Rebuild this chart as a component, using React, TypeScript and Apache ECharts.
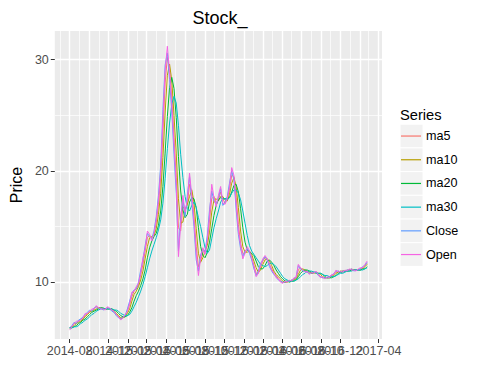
import React, { useEffect, useRef } from "react";
import * as echarts from "echarts";

const dates = [
  "2014-08-01","2014-08-08","2014-08-15","2014-08-22","2014-08-29","2014-09-05","2014-09-12","2014-09-19","2014-09-26","2014-10-03",
  "2014-10-10","2014-10-17","2014-10-24","2014-10-31","2014-11-07","2014-11-14","2014-11-21","2014-11-28","2014-12-05","2014-12-12",
  "2014-12-19","2014-12-26","2015-01-02","2015-01-09","2015-01-16","2015-01-23","2015-01-30","2015-02-06","2015-02-13","2015-02-20",
  "2015-02-27","2015-03-06","2015-03-13","2015-03-20","2015-03-27","2015-04-03","2015-04-10","2015-04-17","2015-04-24","2015-05-01",
  "2015-05-08","2015-05-15","2015-05-22","2015-05-29","2015-06-05","2015-06-12","2015-06-19","2015-06-26","2015-07-03","2015-07-10",
  "2015-07-17","2015-07-24","2015-07-31","2015-08-07","2015-08-14","2015-08-21","2015-08-28","2015-09-04","2015-09-11","2015-09-18",
  "2015-09-25","2015-10-02","2015-10-09","2015-10-16","2015-10-23","2015-10-30","2015-11-06","2015-11-13","2015-11-20","2015-11-27",
  "2015-12-04","2015-12-11","2015-12-18","2015-12-25","2016-01-01","2016-01-08","2016-01-15","2016-01-22","2016-01-29","2016-02-05",
  "2016-02-12","2016-02-19","2016-02-26","2016-03-04","2016-03-11","2016-03-18","2016-03-25","2016-04-01","2016-04-08","2016-04-15",
  "2016-04-22","2016-04-29","2016-05-06","2016-05-13","2016-05-20","2016-05-27","2016-06-03","2016-06-10","2016-06-17","2016-06-24",
  "2016-07-01","2016-07-08","2016-07-15","2016-07-22","2016-07-29","2016-08-05","2016-08-12","2016-08-19","2016-08-26","2016-09-02",
  "2016-09-09","2016-09-16","2016-09-23","2016-09-30","2016-10-07","2016-10-14","2016-10-21","2016-10-28","2016-11-04","2016-11-11",
  "2016-11-18","2016-11-25","2016-12-02","2016-12-09","2016-12-16","2016-12-23","2016-12-30","2017-01-06","2017-01-13","2017-01-20",
  "2017-01-27","2017-02-03","2017-02-10","2017-02-17","2017-02-24"
];

const closeV = [
  5.9,6.1,6.4,6.3,6.6,6.7,6.9,7.1,7.3,7.5,
  7.4,7.7,7.8,7.6,7.7,7.5,7.6,7.7,7.6,7.4,
  7.3,7.0,6.8,6.7,6.9,7.0,7.6,8.3,9.0,9.3,
  9.4,10.0,11.1,12.0,13.3,14.4,14.1,13.9,14.6,15.9,
  17.8,20.5,25.5,29.5,30.6,28.2,25.3,21.5,18.0,12.8,
  15.8,17.5,15.9,17.8,19.5,17.2,15.0,12.0,11.0,12.5,
  12.9,12.8,14.2,16.5,18.2,17.3,17.0,17.6,18.4,16.9,
  17.2,17.7,18.9,20.0,19.2,16.5,14.3,13.0,12.3,12.8,
  13.0,12.6,12.0,11.2,10.6,11.0,11.7,12.0,12.3,12.0,
  11.4,11.0,10.7,10.5,10.2,10.1,10.0,10.0,10.1,10.1,
  10.2,10.3,10.5,11.5,11.2,11.0,11.0,10.9,10.8,10.8,
  10.9,10.9,10.6,10.5,10.4,10.4,10.4,10.5,10.6,10.8,
  11.0,11.0,10.9,11.0,11.0,11.1,11.1,11.2,11.0,11.1,
  11.1,11.2,11.4,11.5,11.8
];

const openV = [
  5.7,6.0,6.3,6.5,6.5,6.6,6.8,7.2,7.2,7.4,
  7.6,7.6,7.9,7.7,7.6,7.6,7.5,7.8,7.7,7.5,
  7.4,7.1,6.9,6.6,6.8,7.1,7.4,8.1,9.1,9.2,
  9.6,9.9,10.8,12.2,13.0,14.6,14.3,13.7,14.4,15.6,
  17.4,20.0,24.6,29.0,31.2,28.9,26.0,22.4,18.8,12.3,
  15.2,17.8,16.3,17.4,19.8,17.8,15.5,12.6,10.6,12.2,
  13.1,12.5,13.8,16.0,18.8,17.6,16.8,17.8,18.6,17.1,
  17.0,17.5,18.6,20.3,19.6,17.0,14.6,13.3,12.1,12.6,
  13.2,12.8,12.2,11.4,10.5,10.8,11.5,12.1,12.4,12.1,
  11.6,11.1,10.8,10.4,10.3,10.0,9.9,10.1,10.0,10.2,
  10.1,10.4,10.4,11.6,11.3,11.1,10.9,11.0,10.7,10.9,
  10.8,11.0,10.7,10.4,10.5,10.3,10.5,10.4,10.7,10.7,
  11.1,10.9,11.0,10.9,11.1,11.0,11.2,11.1,11.1,11.0,
  11.2,11.3,11.3,11.6,11.9
];

const ma5V = [
  5.9,6.0,6.3,6.3,6.5,6.7,6.8,7.0,7.2,7.4,
  7.4,7.6,7.8,7.7,7.7,7.6,7.6,7.7,7.6,7.5,
  7.3,7.1,6.9,6.7,6.8,7.0,7.4,8.0,8.7,9.2,
  9.4,9.8,10.7,11.6,12.8,14.0,14.2,14.0,14.3,15.4,
  17.0,19.4,23.5,27.9,30.2,29.2,26.5,23.0,19.4,14.9,
  14.6,16.8,16.5,17.0,18.8,18.1,15.9,13.2,11.4,11.9,
  12.7,12.8,13.6,15.6,17.5,17.7,17.1,17.4,18.1,17.5,
  17.1,17.5,18.4,19.6,19.5,17.6,15.2,13.5,12.6,12.6,
  12.9,12.8,12.2,11.5,10.8,10.8,11.4,11.9,12.2,12.1,
  11.6,11.2,10.8,10.6,10.3,10.1,10.0,10.0,10.1,10.1,
  10.2,10.3,10.4,11.1,11.3,11.1,11.0,10.9,10.8,10.8,
  10.9,10.9,10.7,10.5,10.4,10.4,10.4,10.5,10.6,10.7,
  10.9,11.0,10.9,11.0,11.0,11.1,11.1,11.2,11.1,11.1,
  11.1,11.2,11.3,11.5,11.7
];

const ma10V = [
  5.9,6.0,6.1,6.3,6.4,6.5,6.7,6.9,7.1,7.3,
  7.4,7.5,7.6,7.7,7.7,7.6,7.6,7.6,7.6,7.6,
  7.4,7.2,7.0,6.8,6.8,6.9,7.2,7.6,8.3,8.9,
  9.2,9.6,10.2,11.0,12.1,13.2,14.0,14.1,14.2,14.8,
  16.1,18.0,21.2,25.2,28.6,29.6,28.1,25.0,21.6,17.5,
  15.3,15.4,16.5,17.0,17.7,18.3,17.2,14.8,12.6,11.8,
  12.2,12.8,13.3,14.5,16.3,17.4,17.5,17.3,17.7,17.7,
  17.4,17.3,17.9,18.9,19.4,18.6,16.7,14.6,13.2,12.7,
  12.7,12.8,12.5,11.9,11.3,10.9,11.1,11.6,12.0,12.1,
  11.9,11.5,11.0,10.7,10.5,10.3,10.1,10.0,10.0,10.1,
  10.1,10.2,10.3,10.7,11.1,11.2,11.1,11.0,10.9,10.8,
  10.8,10.9,10.8,10.7,10.5,10.4,10.4,10.4,10.5,10.6,
  10.8,10.9,11.0,11.0,11.0,11.0,11.1,11.1,11.1,11.1,
  11.1,11.1,11.2,11.4,11.6
];

const ma20V = [
  5.9,5.9,6.0,6.1,6.3,6.4,6.6,6.7,6.9,7.1,
  7.3,7.4,7.5,7.6,7.7,7.7,7.6,7.6,7.6,7.6,
  7.5,7.4,7.2,7.0,6.9,6.9,7.0,7.3,7.7,8.3,
  8.8,9.2,9.7,10.3,11.1,12.2,13.1,13.7,14.1,14.4,
  15.1,16.4,18.6,21.6,24.9,27.5,28.4,27.4,24.8,21.3,
  18.2,16.5,15.8,16.1,17.2,17.6,17.5,16.7,14.9,13.2,
  12.4,12.2,12.7,13.6,14.8,16.0,16.9,17.4,17.6,17.5,
  17.5,17.5,17.6,18.1,18.7,18.8,18.1,16.6,14.9,13.6,
  12.9,12.7,12.6,12.4,11.9,11.4,11.2,11.2,11.5,11.9,
  12.0,11.8,11.5,11.1,10.8,10.5,10.3,10.1,10.1,10.0,
  10.1,10.1,10.2,10.5,10.8,11.0,11.1,11.1,11.0,10.9,
  10.9,10.8,10.8,10.8,10.7,10.5,10.4,10.4,10.4,10.5,
  10.6,10.8,10.9,10.9,11.0,11.0,11.0,11.1,11.1,11.1,
  11.1,11.1,11.2,11.2,11.4
];

const ma30V = [
  5.9,5.9,6.0,6.0,6.1,6.3,6.4,6.6,6.7,6.9,
  7.1,7.2,7.4,7.5,7.6,7.6,7.6,7.6,7.6,7.6,
  7.5,7.5,7.4,7.2,7.1,7.0,7.0,7.1,7.4,7.8,
  8.2,8.7,9.2,9.8,10.5,11.3,12.1,12.8,13.4,14.0,
  14.7,15.6,17.1,19.3,22.0,24.3,26.0,26.7,26.1,24.1,
  21.5,19.4,17.7,16.6,16.4,16.9,17.2,16.7,15.8,15.0,
  14.0,13.1,12.6,12.9,13.9,14.9,15.7,16.4,17.2,17.5,
  17.5,17.4,17.6,18.0,18.3,18.3,18.0,17.4,16.4,15.3,
  14.2,13.3,12.8,12.5,12.2,11.9,11.6,11.5,11.4,11.5,
  11.7,11.7,11.6,11.4,11.1,10.8,10.5,10.3,10.2,10.1,
  10.1,10.1,10.2,10.3,10.5,10.7,10.8,11.0,11.0,11.0,
  10.9,10.9,10.8,10.8,10.7,10.6,10.6,10.5,10.5,10.5,
  10.6,10.7,10.8,10.8,10.9,11.0,11.0,11.0,11.1,11.1,
  11.1,11.1,11.1,11.2,11.3
];

const seriesNames = ["ma5", "ma10", "ma20", "ma30", "Close", "Open"];
const seriesValues = [ma5V, ma10V, ma20V, ma30V, closeV, openV];
const seriesColors = ["#F8766D", "#B79F00", "#00BA38", "#00BFC4", "#619CFF", "#F564E3"];

const xTickLabels = [
  "2014-08","2014-10","2014-12","2015-02","2015-04","2015-06","2015-08","2015-10","2015-12",
  "2016-02","2016-04","2016-06","2016-08","2016-10","2016-12","2017-02","2017-04"
];
const xMinorTicks = [
  "2014-07","2014-09","2014-11","2015-01","2015-03","2015-05","2015-07","2015-09","2015-11",
  "2016-01","2016-03","2016-05","2016-07","2016-09","2016-11","2017-01","2017-03"
];
const yTickValues = [10, 20, 30];
const yMinorTicks = [15, 25];

const FONT = "'Liberation Sans', Arial, sans-serif";

function dayTs(s: string): number {
  const [y, m, d] = s.split("-").map(Number);
  return Date.UTC(y, m - 1, d || 1);
}

export default function App() {
  const ref = useRef<HTMLDivElement>(null);

  useEffect(() => {
    if (!ref.current) return;
    const chart = echarts.init(ref.current, null, { renderer: "svg" });

    const start = dayTs(dates[0]);
    const end = dayTs(dates[dates.length - 1]);
    const pad = (end - start) * 0.05;
    const xMin = start - pad;
    const xMax = end + pad;
    const yMin = 4.9;
    const yMax = 32.57;

    const majorTs = xTickLabels.map(dayTs);
    const minorTs = xMinorTicks.map(dayTs);
    const labelFor = (v: number) => {
      let best = "";
      let bestD = Infinity;
      majorTs.forEach((t, i) => {
        const d = Math.abs(t - v);
        if (d < bestD) {
          bestD = d;
          best = xTickLabels[i];
        }
      });
      return bestD < 86400000 ? best : "";
    };

    const keyTop = 124.2;
    const keyH = 23.7;

    const option: any = {
      animation: false,
      backgroundColor: "#ffffff",
      textStyle: { fontFamily: FONT },
      title: {
        text: "Stock_",
        left: 215,
        top: 4,
        textAlign: "center",
        textStyle: { fontSize: 18, fontWeight: "normal", color: "#000", fontFamily: FONT },
      },
      grid: {
        left: 48,
        right: 102,
        top: 31,
        bottom: 49,
        show: true,
        backgroundColor: "#EBEBEB",
        borderWidth: 0,
        containLabel: false,
      },
      xAxis: [
        {
          type: "value",
          min: xMin,
          max: xMax,
          axisLine: { show: false },
          axisTick: { show: true, customValues: majorTs, length: 4, lineStyle: { color: "#333333", width: 1 } },
          axisLabel: {
            customValues: majorTs,
            formatter: (v: number) => labelFor(v),
            color: "#4D4D4D",
            fontSize: 12.5,
            margin: 5,
            fontFamily: FONT,
            hideOverlap: false,
            showMinLabel: true,
            showMaxLabel: true,
          },
          splitLine: { show: true, lineStyle: { color: "#FFFFFF", width: 1.4 } },
        },
        {
          type: "value",
          min: xMin,
          max: xMax,
          axisLine: { show: false },
          axisTick: { show: false, customValues: minorTs },
          axisLabel: { show: false, customValues: minorTs },
          splitLine: { show: true, lineStyle: { color: "#FFFFFF", width: 0.7 } },
        },
      ],
      yAxis: [
        {
          type: "value",
          min: yMin,
          max: yMax,
          axisLine: { show: false },
          axisTick: { show: true, customValues: yTickValues, length: 4, lineStyle: { color: "#333333", width: 1 } },
          axisLabel: {
            customValues: yTickValues,
            color: "#4D4D4D",
            fontSize: 12.5,
            margin: 6,
            fontFamily: FONT,
            showMinLabel: true,
            showMaxLabel: true,
          },
          splitLine: { show: true, lineStyle: { color: "#FFFFFF", width: 1.4 } },
          name: "Price",
          nameLocation: "middle",
          nameGap: 24,
          nameTextStyle: { fontSize: 16, color: "#000", fontFamily: FONT },
        },
        {
          type: "value",
          min: yMin,
          max: yMax,
          axisLine: { show: false },
          axisTick: { show: false, customValues: yMinorTicks },
          axisLabel: { show: false, customValues: yMinorTicks },
          splitLine: { show: true, lineStyle: { color: "#FFFFFF", width: 0.7 } },
        },
      ],
      legend: {
        orient: "vertical",
        left: 401,
        top: keyTop,
        padding: 0,
        itemWidth: 20,
        itemHeight: keyH,
        itemGap: 0,
        icon: "path://M0,0L20,0L20,1.2L0,1.2Z",
        textStyle: { fontSize: 12.6, color: "#000", fontFamily: FONT, lineHeight: keyH, height: keyH },
        data: seriesNames.map((n, i) => ({ name: n, itemStyle: { color: seriesColors[i] } })),
        selectedMode: false,
        z: 5,
      },
      graphic: [
        {
          type: "text",
          left: 400,
          top: 107,
          style: { text: "Series", fontSize: 14.7, fill: "#000", fontFamily: FONT },
        },
        ...seriesNames.map((_, i) => ({
          type: "rect",
          z: 1,
          shape: { x: 400, y: keyTop + i * keyH, width: 23, height: keyH },
          style: { fill: "#F2F2F2", stroke: "#FFFFFF", lineWidth: 1 },
        })),
      ],
      series: seriesNames.map((n, i) => ({
        name: n,
        type: "line",
        xAxisIndex: 0,
        yAxisIndex: 0,
        symbol: "none",
        showSymbol: false,
        data: dates.map((d, j) => [dayTs(d), seriesValues[i][j]]),
        lineStyle: { color: seriesColors[i], width: 1 },
        itemStyle: { color: seriesColors[i] },
        z: 2,
      })),
    };

    chart.setOption(option);
    return () => chart.dispose();
  }, []);

  return (
    <div
      ref={ref}
      style={{ position: "absolute", left: 0, top: 0, width: 484, height: 388 }}
    />
  );
}
